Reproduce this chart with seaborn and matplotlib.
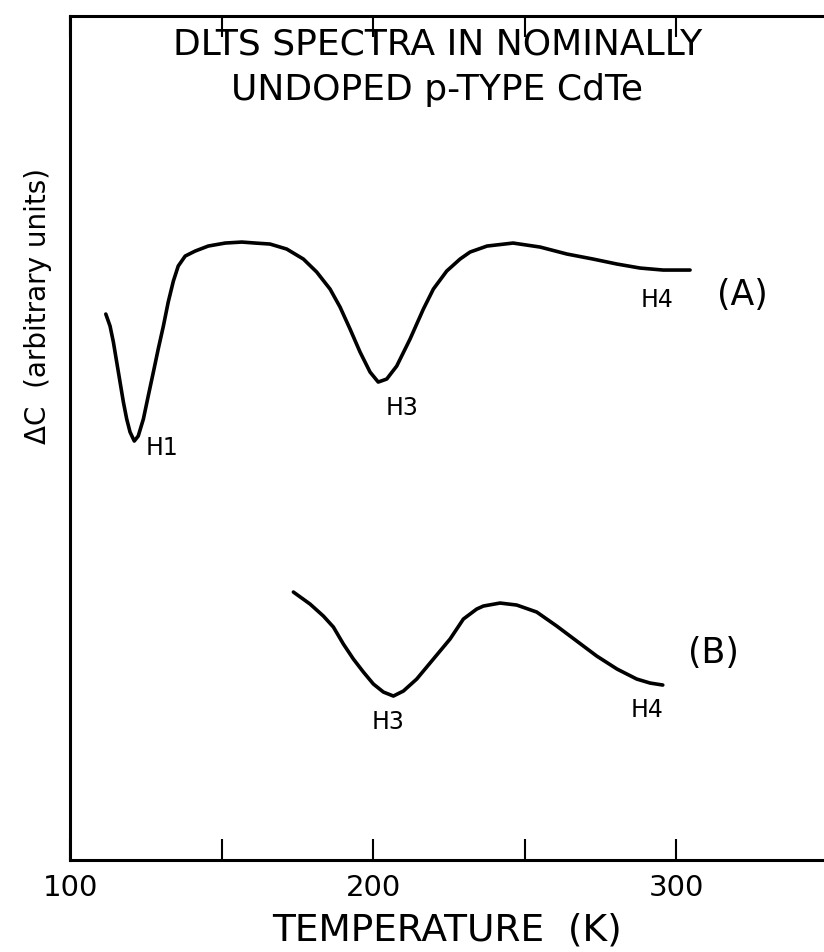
import matplotlib
matplotlib.use("Agg")
import matplotlib.pyplot as plt
import seaborn as sns
import pandas as pd
from matplotlib.ticker import FixedLocator

# Spectrum (A): temperature (K) and DLTS signal (arbitrary units)
temp_a = [111.8, 113.2, 114.3, 115.4, 116.5, 117.6, 118.7, 119.8, 121.2, 122.5,
          124.2, 125.8, 127.5, 129.1, 130.8, 132.4, 134.1, 135.7, 138.0, 141.3,
          145.6, 151.2, 156.7, 161.1, 166.0, 171.5, 177.0, 181.4, 185.8, 189.1,
          192.4, 195.7, 199.0, 201.7, 204.5, 207.8, 212.2, 216.6, 219.9, 224.3,
          228.7, 232.0, 237.6, 246.2, 255.1, 264.0, 272.6, 280.5, 288.1, 295.7,
          304.6]
signal_a = [5.46, 5.34, 5.18, 4.98, 4.78, 4.58, 4.41, 4.28, 4.19, 4.24,
            4.41, 4.64, 4.88, 5.11, 5.34, 5.58, 5.79, 5.94, 6.04, 6.09,
            6.14, 6.17, 6.18, 6.17, 6.16, 6.11, 6.01, 5.88, 5.71, 5.53,
            5.31, 5.08, 4.88, 4.78, 4.81, 4.94, 5.21, 5.51, 5.71, 5.89,
            6.01, 6.08, 6.14, 6.17, 6.13, 6.06, 6.01, 5.96, 5.92, 5.90,
            5.90]

# Spectrum (B)
temp_b = [173.7, 179.2, 183.6, 186.9, 190.2, 193.5, 196.8, 200.1, 203.4, 206.7,
          210.0, 214.4, 219.9, 225.4, 229.8, 234.2, 236.4, 241.9, 247.4, 254.0,
          260.6, 267.2, 273.8, 280.5, 287.0, 291.4, 295.6]
signal_b = [2.68, 2.56, 2.44, 2.33, 2.16, 2.01, 1.88, 1.76, 1.68, 1.64,
            1.69, 1.81, 2.01, 2.21, 2.41, 2.51, 2.54, 2.57, 2.55, 2.48,
            2.34, 2.19, 2.04, 1.91, 1.81, 1.77, 1.75]

major_ticks = [100, 200, 300]
major_labels = ["100", "200", "300"]
minor_ticks = [150, 250]

sns.set_style("white")
plt.rcParams["font.family"] = ["DejaVu Sans"]
plt.rcParams["text.color"] = "black"
plt.rcParams["axes.labelcolor"] = "black"
plt.rcParams["xtick.color"] = "black"

fig = plt.figure(figsize=(8.24, 9.53), dpi=100)
ax = fig.add_axes([0.085, 0.0965, 0.915, 0.8856])

df_a = pd.DataFrame({"T": temp_a, "dC": signal_a})
df_b = pd.DataFrame({"T": temp_b, "dC": signal_b})
for df in (df_a, df_b):
    sns.lineplot(data=df, x="T", y="dC", ax=ax, color="black", linewidth=2.6,
                 estimator=None, sort=False, solid_capstyle="round",
                 solid_joinstyle="round")

ax.set_xlim(100, 348.8)
ax.set_ylim(0, 8.44)

# Peak labels and spectrum tags
lbl = dict(color="black", ha="center", va="center")
ax.text(130.4, 4.13, "H1", fontsize=17, **lbl)
ax.text(209.6, 4.53, "H3", fontsize=17, **lbl)
ax.text(293.7, 5.61, "H4", fontsize=17, **lbl)
ax.text(321.8, 5.66, "(A)", fontsize=25, **lbl)
ax.text(205.0, 1.39, "H3", fontsize=17, **lbl)
ax.text(290.4, 1.51, "H4", fontsize=17, **lbl)
ax.text(312.2, 2.08, "(B)", fontsize=25, **lbl)

ax.text(0.487, 0.967, "DLTS SPECTRA IN NOMINALLY", transform=ax.transAxes,
        fontsize=26, **lbl)
ax.text(0.487, 0.913, "UNDOPED p-TYPE CdTe", transform=ax.transAxes,
        fontsize=26, **lbl)

# Axes frame: open on the right, inward ticks top and bottom
for side in ("left", "bottom", "top"):
    ax.spines[side].set_visible(True)
    ax.spines[side].set_color("black")
    ax.spines[side].set_linewidth(2.2)
ax.spines["right"].set_visible(False)

ax.xaxis.set_major_locator(FixedLocator(major_ticks))
ax.set_xticklabels(major_labels)
ax.xaxis.set_minor_locator(FixedLocator(minor_ticks))
ax.tick_params(axis="x", which="both", direction="in", length=15, width=1.5,
               top=True, bottom=True, color="black", labelcolor="black")
ax.tick_params(axis="x", which="major", labelsize=21, pad=9)
ax.set_yticks([])

ax.set_xlabel("TEMPERATURE  (K)", fontsize=27, labelpad=8, color="black")
ax.set_ylabel("ΔC  (arbitrary units)", fontsize=20, va="center", color="black")
ax.yaxis.set_label_coords(-0.043, 0.658)

fig.savefig("out.png", dpi=100, facecolor="white")
